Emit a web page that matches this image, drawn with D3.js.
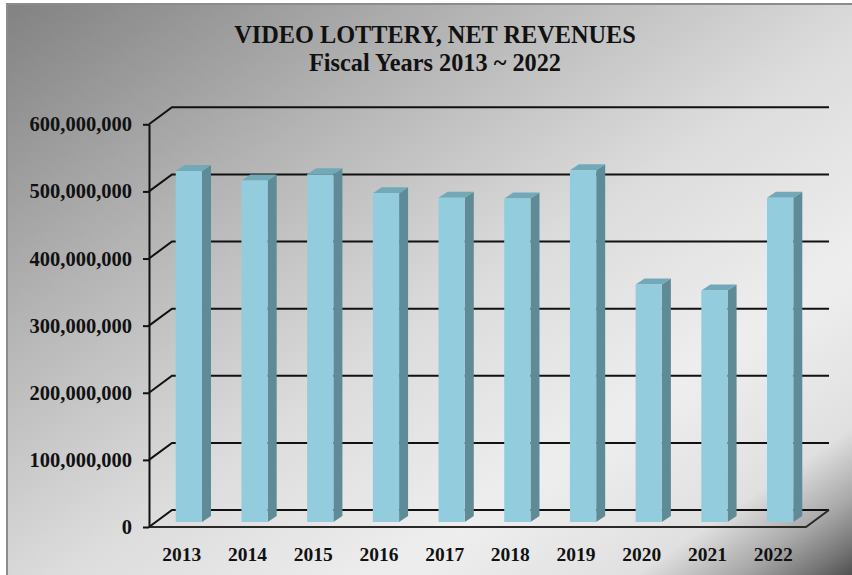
<!DOCTYPE html>
<html>
<head>
<meta charset="utf-8">
<script src="https://cdn.jsdelivr.net/npm/d3@7"></script>
<style>
  html, body { margin: 0; padding: 0; background: #ffffff; }
  svg { display: block; }
  text { font-family: "Times New Roman", "Liberation Serif", serif; font-weight: bold; fill: #111; }
</style>
</head>
<body>
<svg id="chart" width="852" height="575"></svg>
<script>
// Fiscal-year net revenues from video lottery
const years = ["2013", "2014", "2015", "2016", "2017", "2018", "2019", "2020", "2021", "2022"];
const revenues = [523000000, 509000000, 518000000, 490000000, 483000000, 482000000, 524000000, 354000000, 345000000, 483000000];
const yTicks = [0, 100000000, 200000000, 300000000, 400000000, 500000000, 600000000];
const titleLines = ["VIDEO LOTTERY, NET REVENUES", "Fiscal Years 2013 ~ 2022"];

(function () {
  const W = 852, H = 575;
  const svg = d3.select("#chart");

  // Background panel with diagonal chrome-like gradient
  const defs = svg.append("defs");
  const grad = defs.append("linearGradient")
    .attr("id", "bg").attr("x1", 0).attr("y1", 0).attr("x2", 1).attr("y2", 1);
  [[0, "#828282"], [0.28, "#b4b4b4"], [0.52, "#dcdcdc"], [0.72, "#eeeeee"], [0.86, "#e0e0e0"],
   [0.92, "#a8a8a8"], [0.96, "#767676"], [1, "#3e3e3e"]].forEach(([o, c]) =>
    grad.append("stop").attr("offset", o).attr("stop-color", c));

  svg.append("rect")
    .attr("x", 7).attr("y", 4).attr("width", W + 4).attr("height", H + 4)
    .attr("fill", "url(#bg)")
    .attr("stroke", "#8c8c8c").attr("stroke-width", 2);

  // Plot geometry: front plane and depth offset of the back wall
  const pLeft = 149, pRight = 806, pBottom = 527, pTop = 124.3;
  const depth = { dx: 23, dy: -17 };
  const barShift = { dx: 7, dy: -5 };   // bars sit slightly inside the floor
  const barDepth = { dx: 9, dy: -6 };   // extrusion of each bar

  const x = d3.scaleBand().domain(years).range([pLeft, pRight]).paddingInner(0.6).paddingOuter(0.3);
  const y = d3.scaleLinear().domain([0, 600000000]).range([pBottom, pTop]);

  // Back wall gridlines with their left-wall diagonals
  const grid = svg.append("g").attr("stroke", "#111").attr("stroke-width", 2).attr("fill", "none");
  yTicks.forEach(v => {
    const yy = y(v);
    grid.append("path").attr("d",
      `M${pLeft},${yy}L${pLeft + depth.dx},${yy + depth.dy}L${pRight + depth.dx},${yy + depth.dy}`);
  });
  // Floor outline (front edge and right edge)
  grid.append("path").attr("stroke", "#2a2a2a").attr("d",
    `M${pLeft},${pBottom}L${pRight},${pBottom}L${pRight + depth.dx},${pBottom + depth.dy}`);

  // 3D bars: side, top, front
  const bars = svg.append("g");
  years.forEach((yr, i) => {
    const x0 = x(yr) + barShift.dx, x1 = x0 + x.bandwidth();
    const yb = y(0) + barShift.dy, yt = y(revenues[i]) + barShift.dy;
    const g = bars.append("g");
    g.append("path").attr("fill", "#5f8b97")
      .attr("d", `M${x1},${yb}L${x1 + barDepth.dx},${yb + barDepth.dy}L${x1 + barDepth.dx},${yt + barDepth.dy}L${x1},${yt}Z`);
    g.append("path").attr("fill", "#71a9b8")
      .attr("d", `M${x0},${yt}L${x0 + barDepth.dx},${yt + barDepth.dy}L${x1 + barDepth.dx},${yt + barDepth.dy}L${x1},${yt}Z`);
    g.append("rect").attr("fill", "#93cddd")
      .attr("x", x0).attr("y", yt).attr("width", x1 - x0).attr("height", yb - yt);
  });

  // Value axis
  const yAxis = svg.append("g").attr("transform", `translate(${pLeft},0)`)
    .call(d3.axisLeft(y).tickValues(yTicks).tickFormat(d3.format(",")).tickSize(6).tickSizeOuter(0).tickPadding(11));
  yAxis.selectAll("path, line").attr("stroke", "#111").attr("stroke-width", 2);
  yAxis.selectAll("text").style("font-size", "20.5px").attr("fill", "#111");

  // Category axis
  const xAxis = svg.append("g").attr("transform", `translate(0,${pBottom})`)
    .call(d3.axisBottom(x).tickSize(0).tickPadding(20));
  xAxis.select(".domain").remove();
  xAxis.selectAll("text").style("font-size", "19.5px").attr("fill", "#111");

  // Title
  svg.append("text").attr("x", 435).attr("y", 43).attr("text-anchor", "middle")
    .style("font-size", "24.3px").text(titleLines[0]);
  svg.append("text").attr("x", 435).attr("y", 71).attr("text-anchor", "middle")
    .style("font-size", "24.3px").text(titleLines[1]);
})();
</script>
</body>
</html>
